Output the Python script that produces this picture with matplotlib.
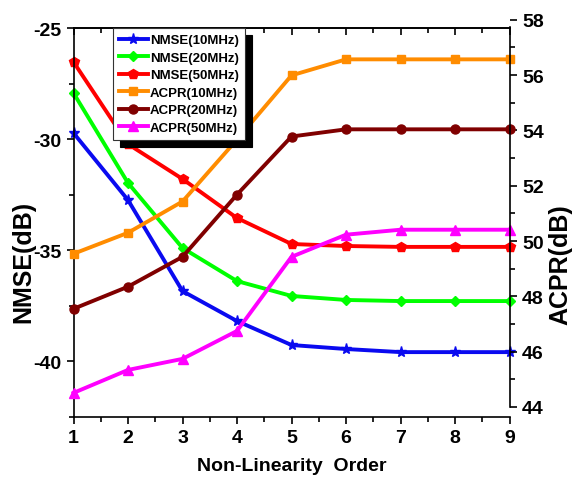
import numpy as np
import matplotlib
matplotlib.use("Agg")
import matplotlib.pyplot as plt
from matplotlib.ticker import MultipleLocator

plt.rcParams['font.family'] = ['Liberation Sans', 'DejaVu Sans']
plt.rcParams['font.weight'] = 'bold'
plt.rcParams['axes.unicode_minus'] = False

order = [1, 2, 3, 4, 5, 6, 7, 8, 9]

# NMSE (left axis, dB)
nmse_10 = [-29.73, -32.75, -36.85, -38.2, -39.28, -39.46, -39.6, -39.6, -39.6]
nmse_20 = [-27.93, -31.98, -34.91, -36.4, -37.07, -37.25, -37.3, -37.3, -37.3]
nmse_50 = [-26.53, -30.23, -31.8, -33.56, -34.73, -34.82, -34.86, -34.86, -34.86]

# ACPR (right axis, dB)
acpr_10 = [49.54, 50.3, 51.43, 53.67, 55.99, 56.57, 56.57, 56.57, 56.57]
acpr_20 = [47.55, 48.35, 49.43, 51.68, 53.78, 54.04, 54.04, 54.04, 54.04]
acpr_50 = [44.51, 45.34, 45.74, 46.75, 49.43, 50.23, 50.41, 50.41, 50.41]

W, H = 578, 481
fig = plt.figure(figsize=(W / 100, H / 100), dpi=100)

# main axes: pixel box x 73.5..509.5, y 29..417.5
ax = fig.add_axes([73.5 / W, 1 - 417.5 / H, 436 / W, 388.5 / H])
# right axis is a separate, slightly shifted axes (44 at y=408, 58 at y=20.8)
ax2 = fig.add_axes([73.5 / W, 1 - 408 / H, 436 / W, 387.2 / H])
ax2.patch.set_visible(False)

lw = 2.8
l1, = ax.plot(order, nmse_10, color='#0a0af0', lw=lw, marker='*', ms=8, label='NMSE(10MHz)')
l2, = ax.plot(order, nmse_20, color='#00ff00', lw=lw, marker='D', ms=5.5, label='NMSE(20MHz)')
l3, = ax.plot(order, nmse_50, color='#ff0000', lw=lw, marker='p', ms=7, label='NMSE(50MHz)')
l4, = ax2.plot(order, acpr_10, color='#ff8c00', lw=lw, marker='s', ms=6, label='ACPR(10MHz)')
l5, = ax2.plot(order, acpr_20, color='#800000', lw=lw, marker='o', ms=6.5, label='ACPR(20MHz)')
l6, = ax2.plot(order, acpr_50, color='#ff00ff', lw=lw, marker='^', ms=7, label='ACPR(50MHz)')
for ln in (l1, l2, l3, l4, l5, l6):
    ln.set_clip_on(False)

ax.set_xlim(1, 9)
ax.set_ylim(-42.5, -25)
ax.xaxis.set_major_locator(MultipleLocator(1))
ax.xaxis.set_minor_locator(MultipleLocator(0.5))
ax.yaxis.set_major_locator(MultipleLocator(5))
ax.yaxis.set_minor_locator(MultipleLocator(2.5))
ax.spines['right'].set_visible(False)
for s in ('left', 'bottom', 'top'):
    ax.spines[s].set_linewidth(1.2)
ax.tick_params(axis='both', which='major', direction='out', length=5, width=1.2,
               labelsize=14, pad=4)
ax.tick_params(axis='both', which='minor', direction='out', length=3.5, width=1.2)
ax.tick_params(axis='y', right=False)
plt.setp(ax.get_xticklabels() + ax.get_yticklabels(), fontweight='bold')

# inward ticks along the top edge
top = ax.secondary_xaxis('top')
top.xaxis.set_major_locator(MultipleLocator(1))
top.xaxis.set_minor_locator(MultipleLocator(0.5))
top.tick_params(which='major', direction='in', length=5, width=1.2, labeltop=False)
top.tick_params(which='minor', direction='in', length=3.5, width=1.2)
top.spines['top'].set_linewidth(1.2)

ax.set_xlabel('Non-Linearity  Order', fontsize=14, fontweight='bold')
ax.set_ylabel('NMSE(dB)', fontsize=18, fontweight='bold')
ax.xaxis.set_label_coords(0.5, -0.105)
ax.yaxis.set_label_coords(-0.088, 0.4)

ax2.set_xlim(1, 9)
ax2.set_ylim(44, 58)
ax2.yaxis.set_major_locator(MultipleLocator(2))
ax2.yaxis.set_minor_locator(MultipleLocator(1))
for s in ('left', 'bottom', 'top'):
    ax2.spines[s].set_visible(False)
ax2.spines['right'].set_linewidth(1.2)
ax2.spines['right'].set_bounds(44, 57.73)
ax2.xaxis.set_visible(False)
ax2.yaxis.tick_right()
ax2.yaxis.set_label_position('right')
ax2.tick_params(axis='y', which='major', direction='out', length=5, width=1.2,
                labelsize=14, pad=4)
ax2.tick_params(axis='y', which='minor', direction='out', length=3.5, width=1.2)
plt.setp(ax2.get_yticklabels(), fontweight='bold')
ax2.set_ylabel('ACPR(dB)', fontsize=18, fontweight='bold', rotation=90)
ax2.yaxis.set_label_coords(1.09, 0.37)

handles = [l1, l2, l3, l4, l5, l6]
leg = ax2.legend(handles, [h.get_label() for h in handles], loc='upper left',
                 bbox_to_anchor=(0.0906, 1.0), bbox_transform=ax.transAxes,
                 borderaxespad=0, frameon=True, fancybox=False,
                 shadow={'ox': 5, 'oy': -5, 'color': 'black', 'alpha': 1},
                 numpoints=1, handlelength=2.2, handletextpad=0.15,
                 labelspacing=0.4, borderpad=0.45,
                 prop={'size': 9.5, 'weight': 'bold'})
leg.get_frame().set_edgecolor('#333333')
leg.get_frame().set_linewidth(0.8)

fig.savefig('out.png', dpi=100)
